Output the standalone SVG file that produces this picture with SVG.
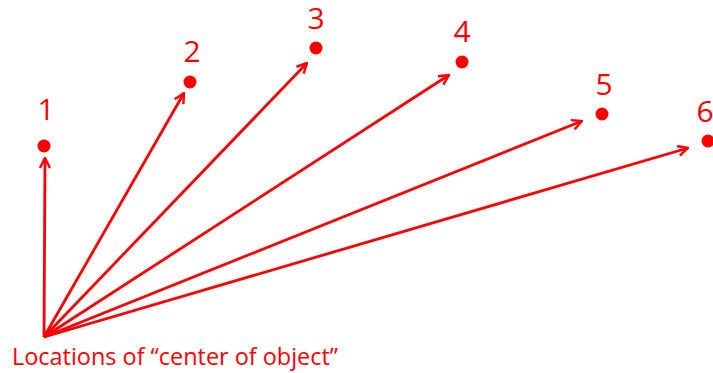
<svg xmlns="http://www.w3.org/2000/svg" width="713" height="373" viewBox="0 0 713 373">
<style>
.lbl{font-family:"Open Sans","Liberation Sans",sans-serif;font-size:30px;fill:#ff0000;text-anchor:middle}
.cap{font-family:"Open Sans","Liberation Sans",sans-serif;font-size:24px;fill:#ff0000}
.dot{fill:#ff0000}
.conn line{stroke:#ff0000;stroke-width:2.8;fill:none}
</style>
<defs>
<marker id="ah" viewBox="0 0 12 12" refX="11" refY="6" markerWidth="12" markerHeight="12" markerUnits="userSpaceOnUse" orient="auto">
<path d="M1,1 L11,6 L1,11" fill="none" stroke="#ff0000" stroke-width="2.4"/>
</marker>
</defs>
<rect width="713" height="373" fill="#ffffff"/>
<g id="n1"><circle class="dot" cx="44" cy="146" r="6.5"/><text class="lbl" x="46" y="120">1</text></g>
<g id="n2"><circle class="dot" cx="190" cy="82" r="6.5"/><text class="lbl" x="192" y="62">2</text></g>
<g id="n3"><circle class="dot" cx="316" cy="48" r="6.5"/><text class="lbl" x="316" y="29">3</text></g>
<g id="n4"><circle class="dot" cx="462" cy="62" r="6.5"/><text class="lbl" x="462" y="42">4</text></g>
<g id="n5"><circle class="dot" cx="602" cy="114" r="6.5"/><text class="lbl" x="604" y="95">5</text></g>
<g id="n6"><circle class="dot" cx="708" cy="141" r="6.5"/><text class="lbl" x="705" y="122">6</text></g>
<g id="origin"><text class="cap" x="12" y="365" textLength="326" lengthAdjust="spacingAndGlyphs">Locations of “center of object”</text></g>
<g class="conn" id="connectors">
<line x1="44" y1="337" x2="45" y2="158" marker-end="url(#ah)"/>
<line x1="44" y1="337" x2="184" y2="93" marker-end="url(#ah)"/>
<line x1="44" y1="337" x2="307" y2="63" marker-end="url(#ah)"/>
<line x1="44" y1="337" x2="449" y2="75" marker-end="url(#ah)"/>
<line x1="44" y1="337" x2="582" y2="121" marker-end="url(#ah)"/>
<line x1="44" y1="337" x2="688" y2="148" marker-end="url(#ah)"/>
</g>
</svg>
